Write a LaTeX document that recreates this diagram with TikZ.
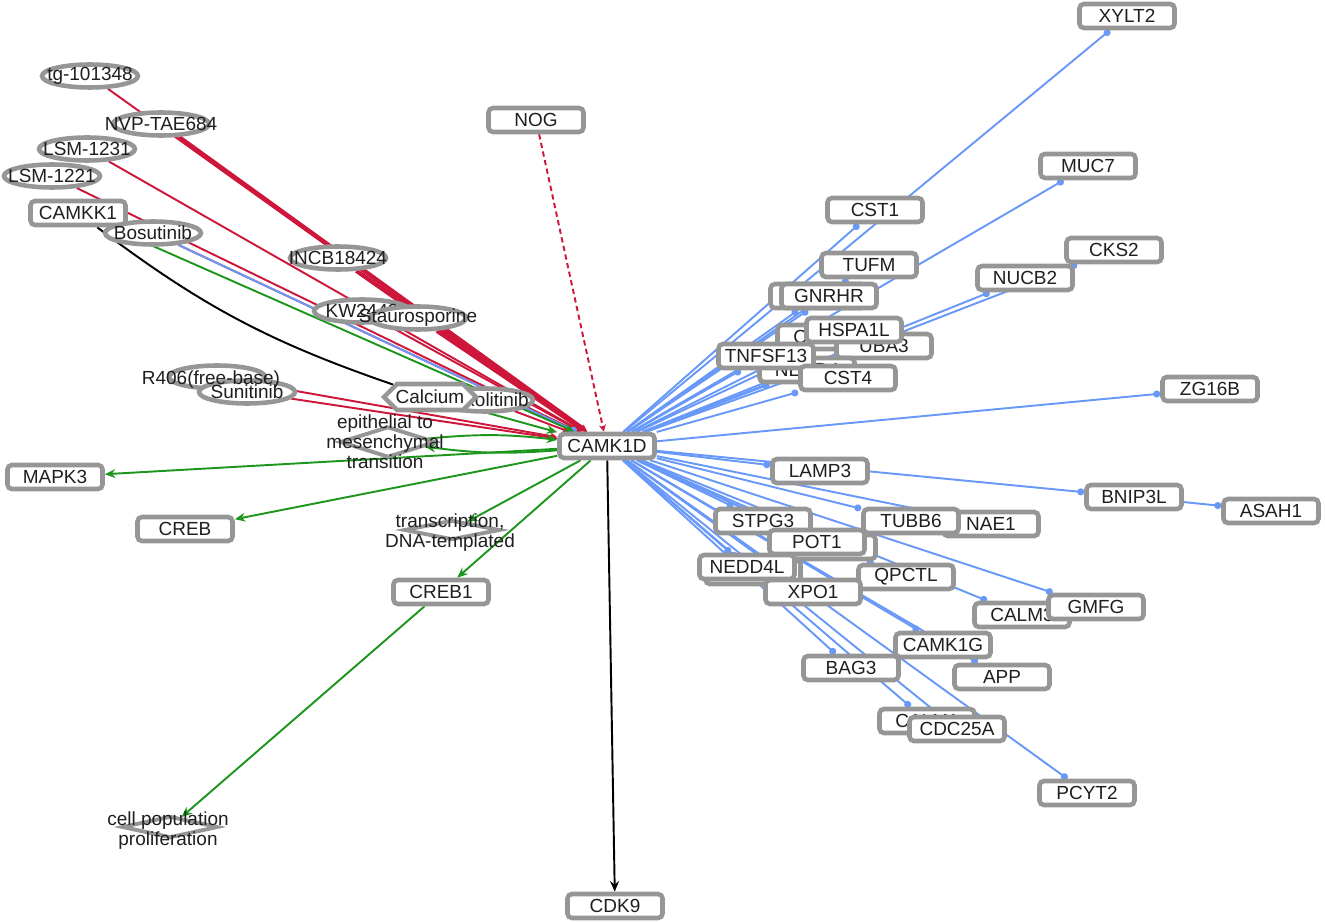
\documentclass[tikz,border=0pt]{standalone}
\usepackage{fontspec}
\setmainfont{Liberation Sans}
\usetikzlibrary{arrows.meta,shapes.geometric,shapes.symbols}
\pgfdeclarelayer{edges}
\pgfsetlayers{edges,main}
\definecolor{boxgray}{RGB}{150,150,150}
\definecolor{drugred}{RGB}{205,22,58}
\definecolor{actgreen}{RGB}{30,150,30}
\definecolor{ppiblue}{RGB}{104,152,248}
\def\nodefont{\fontsize{10.8}{11.4}\selectfont}
\tikzset{
  gene/.style={rectangle, rounded corners=2.5pt, draw=boxgray, line width=2.6pt, fill=white,
    minimum width=1.9cm, minimum height=0.48cm, inner sep=0pt, font=\nodefont, text=black!88},
  drug/.style={ellipse, draw=boxgray, line width=2.6pt, fill=white,
    minimum width=1.92cm, minimum height=0.46cm, inner sep=0pt,
    label={[font=\nodefont, text=black!88]center:#1}},
  smallmol/.style={signal, signal to=west and east, draw=boxgray, line width=2.6pt, fill=white,
    minimum width=1.84cm, minimum height=0.52cm, inner sep=0pt,
    label={[font=\nodefont, text=black!88]center:#1}},
  proc/.style={diamond, draw=boxgray, line width=2.2pt, fill=white,
    minimum width=1.92cm, inner sep=0pt},
  proctext/.style={font=\nodefont, text=black!88, align=center, inner sep=0pt},
  inh/.style={draw=drugred, line width=1.1pt, -{Stealth[length=4pt, width=4pt]}},
  inhthick/.style={inh, line width=2.4pt},
  act/.style={draw=actgreen, line width=1.1pt, -{Stealth[length=6pt, width=5pt]}},
  ppi/.style={draw=ppiblue, line width=1.1pt, -{Circle[length=4pt]}},
}

\begin{document}
\begin{tikzpicture}[x=0.02cm, y=-0.02cm]
	%%%%% START %%%%%
	\useasboundingbox (0,0) rectangle (1325,922);
	
	% drugs
	\node[drug=tg-101348] (tg) at (90, 76) {};
	\node[drug=NVP-TAE684] (nvp) at (161, 124) {};
	\node[drug=LSM-1231] (lsmb) at (87, 149) {};
	\node[drug=LSM-1221] (lsma) at (52, 176) {};
	\node[gene] (camkk1) at (78, 213) {CAMKK1};
	\node[drug=Bosutinib] (bosutinib) at (153, 233) {};
	\node[drug=INCB18424] (incb) at (338, 258) {};
	\node[drug=KW2449] (kw) at (362, 311) {};
	\node[drug=Staurosporine] (stauro) at (418, 318) {};
	\node[drug={}] (r406) at (217, 377) {};
	\node[drug=Sunitinib] (sunitinib) at (247, 392) {};
	\node[proctext] (r406text) at (211, 380) {R406(free-base)};
	\node[drug=Ruxolitinib] (ruxo) at (485, 400) {};
	\node[smallmol=Calcium] (calcium) at (430, 397) {};
	
	% processes
	\node[proc, minimum height=0.62cm] (emt) at (388, 442) {};
	\node[proctext] (emttext) at (385, 442) {epithelial to\\mesenchymal\\transition};
	\node[proc, minimum height=0.4cm] (transcr) at (452, 530) {};
	\node[proctext] (transcrtext) at (450, 533) {transcription,\\DNA-templated};
	\node[proc, minimum height=0.44cm] (prolif) at (170, 827) {};
	\node[proctext] (prociftext) at (168, 831) {cell population\\proliferation};
	
	% left genes
	\node[gene] (mapk3) at (55, 477) {MAPK3};
	\node[gene] (creb) at (185, 529) {CREB};
	\node[gene] (creb1) at (441, 592) {CREB1};
	\node[gene] (nog) at (536, 120) {NOG};
	\node[gene] (camk1d) at (607, 446) {CAMK1D};
	\node[gene] (cdk9) at (615, 906) {CDK9};
	
	% right genes, upper
	\node[gene] (xylt2) at (1127, 16) {XYLT2};
	\node[gene] (muc7) at (1088, 166) {MUC7};
	\node[gene] (cst1) at (875, 210) {CST1};
	\node[gene] (cks2) at (1114, 250) {CKS2};
	\node[gene] (tufm) at (869, 265) {TUFM};
	\node[gene] (nucb2) at (1025, 278) {NUCB2};
	\node[gene] (gnrhrbg) at (818, 296) {};
	\node[gene] (gnrhr) at (829, 296) {GNRHR};
	\node[gene] (calmtwo) at (825, 337) {CALM2};
	\node[gene] (uba3) at (884, 346) {UBA3};
	\node[gene] (hspa1l) at (854, 330) {HSPA1L};
	\node[gene] (neddfour) at (807, 370) {NEDD4};
	\node[gene] (tnfsf13) at (766, 356) {TNFSF13};
	\node[gene] (cst4) at (848, 378) {CST4};
	\node[gene] (zg16b) at (1210, 389) {ZG16B};
	
	% right genes, lower
	\node[gene] (lamp3) at (820, 471) {LAMP3};
	\node[gene] (bnip3l) at (1134, 497) {BNIP3L};
	\node[gene] (asah1) at (1271, 511) {ASAH1};
	\node[gene] (stpg3) at (763, 521) {STPG3};
	\node[gene] (potbg) at (828, 547) {};
	\node[gene] (pot1) at (817, 542) {POT1};
	\node[gene] (nae1) at (991, 524) {NAE1};
	\node[gene] (tubb6) at (911, 521) {TUBB6};
	\node[gene] (neddbg) at (753, 572) {};
	\node[gene] (nedd4l) at (747, 567) {NEDD4L};
	\node[gene] (qpctl) at (906, 577) {QPCTL};
	\node[gene] (xpo1) at (813, 592) {XPO1};
	\node[gene] (calm3) at (1022, 615) {CALM3};
	\node[gene] (gmfg) at (1096, 607) {GMFG};
	\node[gene] (camk1g) at (943, 645) {CAMK1G};
	\node[gene] (bag3) at (851, 668) {BAG3};
	\node[gene] (app) at (1002, 677) {APP};
	\node[gene] (calmone) at (927, 721) {CALM1};
	\node[gene] (cdc25a) at (957, 729) {CDC25A};
	\node[gene] (pcyt2) at (1087, 793) {PCYT2};
	
	\begin{pgfonlayer}{edges}
	% inhibitors
	\draw[inh] (tg) -- (camk1d);
	\draw[inhthick] (nvp) -- (camk1d);
	\draw[inh] (lsmb) -- (camk1d);
	\draw[inh] (lsma) -- (camk1d);
	\draw[inh] (bosutinib) -- (camk1d);
	\draw[inhthick] (incb) -- (camk1d);
	\draw[inh] (kw) -- (camk1d);
	\draw[inhthick] (stauro) -- (camk1d);
	\draw[inh] (r406) -- (camk1d);
	\draw[inh] (sunitinib) -- (camk1d);
	\draw[inh] (ruxo) -- (camk1d);
	\draw[inh, densely dashed] (nog) -- (camk1d);
	
	% black links
	\draw[line width=1.1pt] (camkk1) to[bend right=9] (calcium);
	\draw[line width=1.1pt, -{Stealth[length=6pt, width=5pt]}] (camk1d) -- (cdk9);
	
	% activation
	\draw[draw=ppiblue, line width=1.1pt, -{Circle[length=4pt]}] (bosutinib) -- (camk1d);
	\draw[act] (camkk1) -- (camk1d);
	\draw[act] (calcium) -- (camk1d);
	\draw[act] (camk1d) to[bend left=6] (emt);
	\draw[act] (emt) to[bend left=6] (camk1d);
	\draw[act] (camk1d) -- (mapk3);
	\draw[act] (camk1d) -- (creb);
	\draw[act] (camk1d) -- (transcr);
	\draw[act] (camk1d) -- (creb1);
	\draw[act] (creb1) -- (prolif);
	
	% interactions
	\draw[ppi] (camk1d) -- (xylt2);
	\draw[ppi] (camk1d) -- (muc7);
	\draw[ppi] (camk1d) -- (cst1);
	\draw[ppi] (camk1d) -- (cks2);
	\draw[ppi] (camk1d) -- (tufm);
	\draw[ppi] (camk1d) -- (nucb2);
	\draw[ppi] (camk1d) -- (gnrhrbg);
	\draw[ppi] (camk1d) -- (gnrhr);
	\draw[ppi] (camk1d) -- (calmtwo);
	\draw[ppi] (camk1d) -- (hspa1l);
	\draw[ppi] (camk1d) -- (uba3);
	\draw[ppi] (camk1d) -- (neddfour);
	\draw[ppi] (camk1d) -- (tnfsf13);
	\draw[ppi] (camk1d) -- (cst4);
	\draw[ppi] (camk1d) -- (zg16b);
	\draw[ppi] (camk1d) -- (lamp3);
	\draw[ppi] (camk1d) -- (bnip3l);
	\draw[ppi] (bnip3l) -- (asah1);
	\draw[ppi] (camk1d) -- (nae1);
	\draw[ppi] (camk1d) -- (tubb6);
	\draw[ppi] (camk1d) -- (stpg3);
	\draw[ppi] (camk1d) -- (potbg);
	\draw[ppi] (camk1d) -- (pot1);
	\draw[ppi] (camk1d) -- (neddbg);
	\draw[ppi] (camk1d) -- (nedd4l);
	\draw[ppi] (camk1d) -- (qpctl);
	\draw[ppi] (camk1d) -- (xpo1);
	\draw[ppi] (camk1d) -- (calm3);
	\draw[ppi] (camk1d) -- (gmfg);
	\draw[ppi] (camk1d) -- (camk1g);
	\draw[ppi] (camk1d) -- (bag3);
	\draw[ppi] (camk1d) -- (app);
	\draw[ppi] (camk1d) -- (calmone);
	\draw[ppi] (camk1d) -- (cdc25a);
	\draw[ppi] (camk1d) -- (pcyt2);
	\end{pgfonlayer}
	
	%%%%% END %%%%%
\end{tikzpicture}
\end{document}
